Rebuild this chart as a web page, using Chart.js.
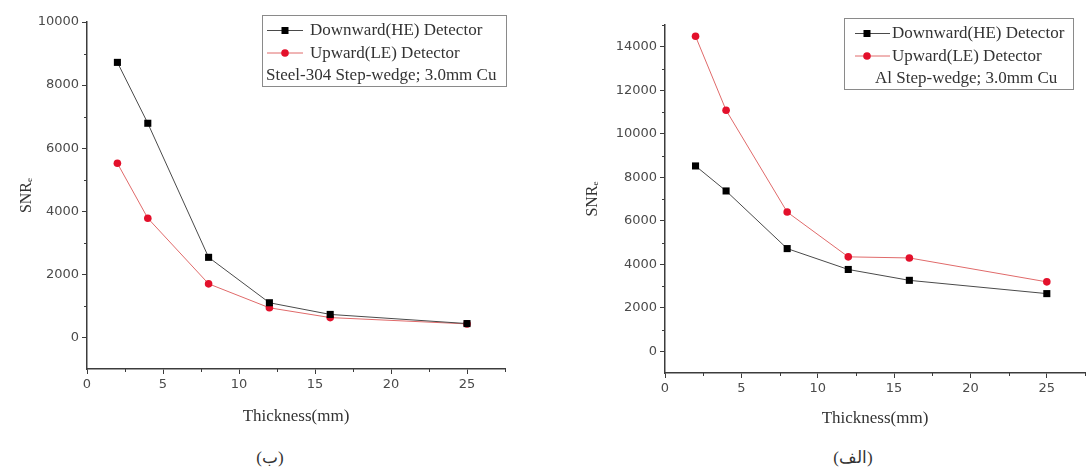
<!DOCTYPE html>
<html>
<head>
<meta charset="utf-8">
<script src="https://cdn.jsdelivr.net/npm/chart.js@4.4.1/dist/chart.umd.min.js"></script>
<style>
  html, body { margin: 0; padding: 0; background: #fff; }
  #page { position: relative; width: 1090px; height: 474px; overflow: hidden; }
  .panel { position: absolute; top: 0; width: 540px; height: 430px; }
  .caption {
    position: absolute; top: 447px;
    font-family: 'Liberation Serif', 'Times New Roman', serif;
    font-size: 17px; color: #333;
    transform: translateX(-50%); white-space: nowrap;
  }
</style>
</head>
<body>
<div id="page">
  <div class="panel" style="left:0"><canvas id="chartSteel" width="540" height="430"></canvas></div>
  <div class="panel" style="left:550px"><canvas id="chartAl" width="540" height="430"></canvas></div>
  <div class="caption" style="left:270px">(ب)</div>
  <div class="caption" style="left:853px">(الف)</div>
</div>
<script>
/**********************************
  1) DATA
**********************************/
const thickness   = [2, 4, 8, 12, 16, 25];     // mm
const xTickValues = [0, 5, 10, 15, 20, 25];
const seriesNames = ['Downward(HE) Detector', 'Upward(LE) Detector'];

// (ب) Steel-304 step-wedge
const steelDownward = [8720, 6790, 2540, 1100, 730, 440];
const steelUpward   = [5520, 3780, 1700, 940, 630, 430];
const steelYTicks   = [0, 2000, 4000, 6000, 8000, 10000];
const steelNote     = 'Steel-304 Step-wedge; 3.0mm Cu';

// (الف) Al step-wedge
const alDownward = [8520, 7370, 4720, 3760, 3260, 2650];
const alUpward   = [14480, 11080, 6400, 4340, 4290, 3190];
const alYTicks   = [0, 2000, 4000, 6000, 8000, 10000, 12000, 14000];
const alNote     = 'Al Step-wedge; 3.0mm Cu';

/**********************************
  2) PLUGINS
**********************************/
const AXIS_COLOR = '#3c3c3c';
const SERIF = "'Liberation Serif', 'Times New Roman', serif";

// short minor ticks between the labelled ones
const minorTicks = {
  id: 'minorTicks',
  afterDraw(chart, args, opts) {
    const { ctx, scales: { x, y } } = chart;
    ctx.save();
    ctx.strokeStyle = AXIS_COLOR;
    ctx.lineWidth = 1;
    ctx.beginPath();
    for (let v = opts.xStep / 2; v <= x.max + 1e-9; v += opts.xStep) {
      const px = Math.round(x.getPixelForValue(v)) + 0.5;
      ctx.moveTo(px, x.top);
      ctx.lineTo(px, x.top + 3);
    }
    for (let v = opts.yStep / 2; v <= y.max + 1e-9; v += opts.yStep) {
      const py = Math.round(y.getPixelForValue(v)) + 0.5;
      ctx.moveTo(y.right, py);
      ctx.lineTo(y.right - 3, py);
    }
    ctx.stroke();
    ctx.restore();
  }
};

// framed legend with an extra note line, like the original plot
const boxLegend = {
  id: 'boxLegend',
  afterDraw(chart, args, o) {
    const ctx = chart.ctx;
    ctx.save();
    ctx.strokeStyle = '#8a8a8a';
    ctx.lineWidth = 1;
    ctx.strokeRect(o.x + 0.5, o.y + 0.5, o.w, o.h);
    ctx.font = '17px ' + SERIF;
    ctx.textBaseline = 'middle';
    chart.data.datasets.forEach((ds, i) => {
      const cy = o.y + o.rowTop + i * o.rowGap;
      ctx.strokeStyle = ds.borderColor;
      ctx.beginPath();
      ctx.moveTo(o.x + o.lineX0, cy + 0.5);
      ctx.lineTo(o.x + o.lineX1, cy + 0.5);
      ctx.stroke();
      const mx = o.x + o.markX;
      ctx.fillStyle = ds.pointBackgroundColor;
      if (ds.pointStyle === 'rect') {
        ctx.fillRect(mx - 3.5, cy - 3, 7, 7);
      } else {
        ctx.beginPath();
        ctx.arc(mx, cy + 0.5, 3.8, 0, Math.PI * 2);
        ctx.fill();
      }
      ctx.fillStyle = '#333';
      ctx.fillText(ds.label, o.x + o.textX, cy + 1);
    });
    ctx.fillText(o.note, o.x + o.noteX, o.y + o.rowTop + 2 * o.rowGap + 1);
    ctx.restore();
  }
};

/**********************************
  3) CHART FACTORY
**********************************/
function makeChart(id, down, up, yTicks, yMax, note, L) {
  return new Chart(document.getElementById(id), {
    type: 'scatter',
    data: {
      datasets: [{
        label: seriesNames[0],
        data: thickness.map((t, i) => ({ x: t, y: down[i] })),
        showLine: true,
        borderColor: '#4a4a4a',
        borderWidth: 1,
        pointStyle: 'rect',
        pointRadius: 5,
        pointBackgroundColor: '#000',
        pointBorderColor: '#000',
        pointBorderWidth: 0
      }, {
        label: seriesNames[1],
        data: thickness.map((t, i) => ({ x: t, y: up[i] })),
        showLine: true,
        borderColor: '#e06a6a',
        borderWidth: 1,
        pointStyle: 'circle',
        pointRadius: 3.8,
        pointBackgroundColor: '#e3102b',
        pointBorderColor: '#e3102b',
        pointBorderWidth: 0
      }]
    },
    options: {
      responsive: false,
      animation: false,
      devicePixelRatio: 1,
      layout: { padding: { left: 0, top: L.top, right: L.right, bottom: 0 } },
      plugins: {
        legend: { display: false },
        tooltip: { enabled: false },
        minorTicks: { xStep: 5, yStep: 2000 },
        boxLegend: Object.assign({ note }, L.legend)
      },
      scales: {
        x: {
          type: 'linear',
          min: 0,
          max: 27.5,
          afterFit: s => { s.height = 430 - L.bottom; },
          afterBuildTicks: s => { s.ticks = xTickValues.map(v => ({ value: v })); },
          grid: { drawOnChartArea: false, color: AXIS_COLOR, tickLength: 5, tickWidth: 1 },
          border: { color: AXIS_COLOR, width: 1.5 },
          ticks: {
            padding: 3, color: '#4a4a4a',
            font: { family: 'DejaVu Sans', size: 13 },
            callback: v => String(v)
          },
          title: {
            display: true,
            text: 'Thickness(mm)',
            color: '#333',
            font: { family: SERIF, size: 17 },
            padding: { top: 0, bottom: L.xTitlePad }
          }
        },
        y: {
          type: 'linear',
          min: -1000,
          max: yMax,
          afterFit: s => { s.width = L.left; },
          afterBuildTicks: s => { s.ticks = yTicks.map(v => ({ value: v })); },
          grid: { drawOnChartArea: false, color: AXIS_COLOR, tickLength: 5, tickWidth: 1 },
          border: { color: AXIS_COLOR, width: 1.5 },
          ticks: {
            padding: 3, color: '#4a4a4a',
            font: { family: 'DejaVu Sans', size: 13 },
            callback: v => String(v)
          },
          title: {
            display: true,
            text: 'SNRₑ',
            color: '#333',
            font: { family: SERIF, size: 16 },
            padding: { top: L.yTitlePad, bottom: 0 }
          }
        }
      }
    },
    plugins: [minorTicks, boxLegend]
  });
}

/**********************************
  4) BUILD BOTH PANELS
**********************************/
makeChart('chartSteel', steelDownward, steelUpward, steelYTicks, 10000, steelNote, {
  left: 87, top: 22, right: 35, bottom: 369,
  xTitlePad: 3, yTitlePad: 17,
  legend: { x: 262, y: 15, w: 244, h: 71, rowTop: 15, rowGap: 22.5,
            lineX0: 5, lineX1: 41, markX: 23, textX: 48, noteX: 4 }
});

makeChart('chartAl', alDownward, alUpward, alYTicks, 15000, alNote, {
  left: 115, top: 25, right: 0, bottom: 373,
  xTitlePad: 1, yTitlePad: 33,
  legend: { x: 294, y: 18, w: 229, h: 71, rowTop: 15, rowGap: 22.5,
            lineX0: 11, lineX1: 46, markX: 23, textX: 48, noteX: 31 }
});
</script>
</body>
</html>
